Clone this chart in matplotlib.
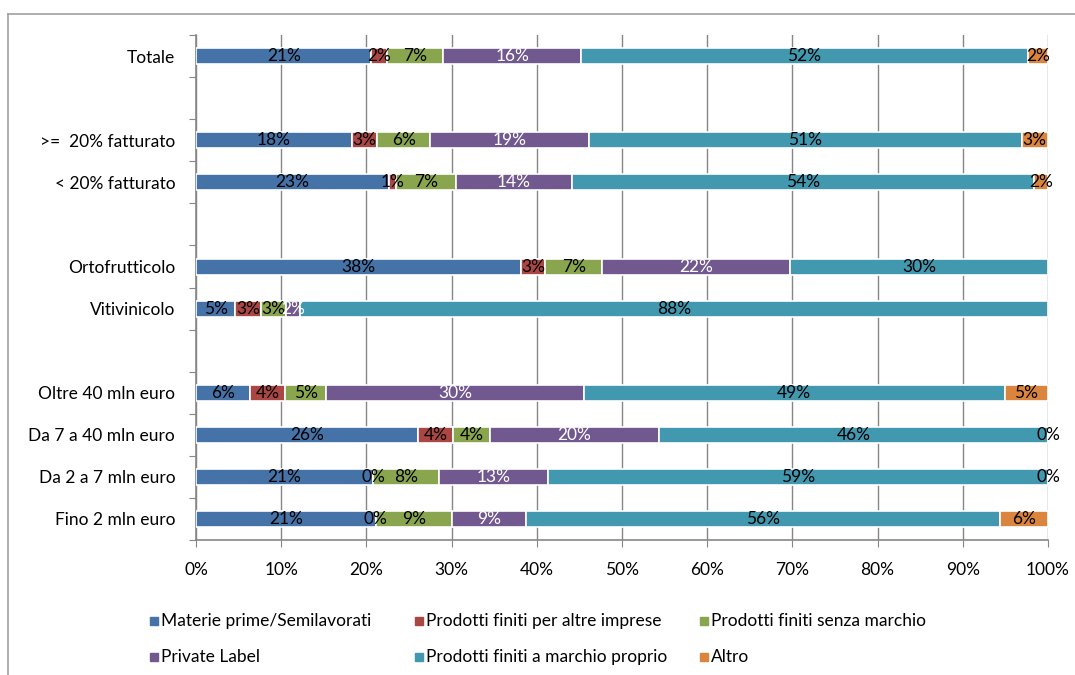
import numpy as np
import matplotlib

matplotlib.use("Agg")
import matplotlib.pyplot as plt
from matplotlib.lines import Line2D

plt.rcParams["font.family"] = ["Lato", "DejaVu Sans"]

# rows from bottom to top; empty strings are spacer rows between groups
categories = [
    "Fino 2 mln euro",
    "Da 2 a 7 mln euro",
    "Da 7 a 40 mln euro",
    "Oltre 40 mln euro",
    "",
    "Vitivinicolo",
    "Ortofrutticolo",
    "",
    "< 20% fatturato",
    ">=  20% fatturato",
    "",
    "Totale",
]

series_names = [
    "Materie prime/Semilavorati",
    "Prodotti finiti per altre imprese",
    "Prodotti finiti senza marchio",
    "Private Label",
    "Prodotti finiti a marchio proprio",
    "Altro",
]

nan = np.nan
materie = [21.1, 20.8, 26.0, 6.3, nan, 4.6, 38.2, nan, 22.6, 18.3, nan, 20.6]
per_altre = [0.0, 0.0, 4.2, 4.2, nan, 3.0, 2.8, nan, 0.9, 3.0, nan, 1.8]
senza_marchio = [8.9, 7.7, 4.3, 4.8, nan, 3.0, 6.7, nan, 7.0, 6.2, nan, 6.6]
private_label = [8.7, 12.8, 19.8, 30.2, nan, 1.6, 22.0, nan, 13.6, 18.6, nan, 16.2]
marchio_proprio = [55.7, 58.7, 45.7, 49.4, nan, 87.8, 30.3, nan, 54.3, 50.8, nan, 52.4]
altro = [5.6, 0.0, 0.0, 5.1, nan, nan, nan, nan, 1.6, 3.1, nan, 2.4]

series = [materie, per_altre, senza_marchio, private_label, marchio_proprio, altro]
colors = ["#4572A7", "#AA4643", "#89A54E", "#71588F", "#4198AF", "#DB843D"]
label_colors = ["black", "black", "black", "white", "black", "black"]
FS = 12.5

fig = plt.figure(figsize=(10.75, 6.75), dpi=100)
ax = fig.add_axes([0.1823, 0.2, 0.7926, 0.748])

y = np.arange(len(categories))
left = np.zeros(len(categories))
for values, color, txt_color in zip(series, colors, label_colors):
    vals = np.array(values, dtype=float)
    has = ~np.isnan(vals)
    widths = np.nan_to_num(vals)
    ax.barh(y[has], widths[has], left=left[has], height=0.38, color=color,
            edgecolor="white", linewidth=1.2, zorder=3)
    for yi, v, l0 in zip(y[has], vals[has], left[has]):
        ax.text(l0 + v / 2, yi, f"{v:.0f}%", ha="center", va="center",
                fontsize=FS, color=txt_color, zorder=4)
    left = left + widths

ax.set_xlim(0, 100)
ax.set_ylim(-0.5, len(categories) - 0.5)
ax.set_xticks(np.arange(0, 101, 10))
ax.set_xticklabels([f"{v}%" for v in range(0, 101, 10)], fontsize=FS)
ax.tick_params(axis="x", length=5, color="#868686", pad=11)
ax.grid(axis="x", color="#868686", linewidth=1.0, zorder=0)

# tick marks between rows, labels at row centres
ax.set_yticks(np.arange(-0.5, len(categories), 1.0))
ax.set_yticklabels([])
ax.set_yticks(y, minor=True)
ax.set_yticklabels(categories, minor=True, fontsize=FS)
ax.tick_params(axis="y", which="major", length=5, color="#868686")
ax.tick_params(axis="y", which="minor", length=0, pad=15)

for side in ("top", "right"):
    ax.spines[side].set_visible(False)
for side in ("left", "bottom"):
    ax.spines[side].set_color("#868686")
    ax.spines[side].set_linewidth(1.2)

# chart area border
fig.add_artist(Line2D([8 / 1075, 8 / 1075], [0, 1 - 14 / 675],
                      color="#A0A0A0", linewidth=1.2))
fig.add_artist(Line2D([8 / 1075, 1], [1 - 14 / 675, 1 - 14 / 675],
                      color="#A0A0A0", linewidth=1.2))

# legend: three columns, two rows
legend_x = [150, 415, 700]
legend_y = [621, 657]
for i, (name, color) in enumerate(zip(series_names, colors)):
    px = legend_x[i % 3]
    py = legend_y[i // 3]
    fig.add_artist(Line2D([(px + 3.5) / 1075], [1 - py / 675], marker="s",
                          markersize=5.5, color=color, linestyle="none"))
    fig.text((px + 11) / 1075, 1 - py / 675, name, fontsize=FS,
             ha="left", va="center")

fig.savefig("out.png", dpi=100)
